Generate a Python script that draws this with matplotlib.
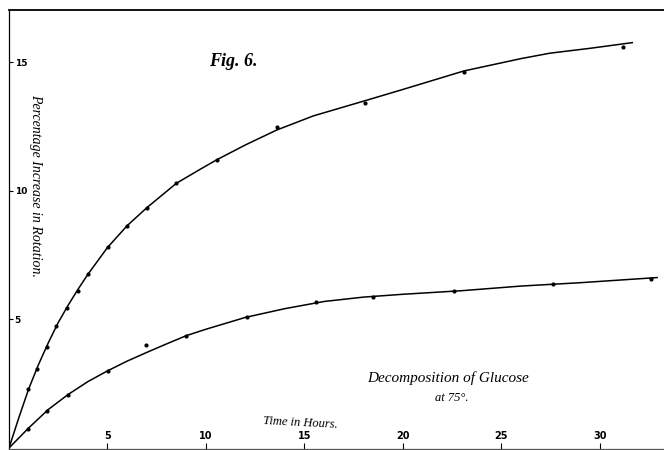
import numpy as np
import matplotlib
matplotlib.use("Agg")
import matplotlib.pyplot as plt

# observed readings (hours, % increase in rotation)
upper_hours = [0.98, 1.44, 1.91, 2.39, 2.93, 3.49, 3.99, 5.01, 5.97, 7.0, 8.5,
               10.54, 13.59, 18.07, 23.1, 31.15]
upper_values = [2.3, 3.07, 3.94, 4.76, 5.46, 6.1, 6.77, 7.81, 8.64, 9.34, 10.3,
                11.21, 12.5, 13.44, 14.64, 15.59]

lower_hours = [0.95, 1.93, 3.0, 5.01, 6.95, 8.97, 12.06, 15.6, 18.5, 22.6, 27.6, 32.6]
lower_values = [0.75, 1.45, 2.05, 3.0, 4.0, 4.37, 5.1, 5.67, 5.89, 6.1, 6.38, 6.56]

# hand drawn curves
upper_curve_x = [0, 0.5, 1, 1.5, 2, 2.5, 3, 3.5, 4, 5, 6, 7, 8.5, 9.7, 10.54, 12,
                 13.59, 15.45, 18.07, 20, 23.1, 26, 27.46, 29.5, 31.64]
upper_curve_y = [0, 1.18, 2.3, 3.25, 4.1, 4.88, 5.55, 6.17, 6.75, 7.8, 8.65, 9.35,
                 10.3, 10.84, 11.21, 11.79, 12.37, 12.92, 13.51, 13.95, 14.67, 15.15,
                 15.36, 15.55, 15.77]

lower_curve_x = [0, 1, 2, 3, 4, 5, 6, 7, 8, 9, 10, 12, 14, 16, 18, 20, 23, 26, 29, 32.9]
lower_curve_y = [0, 0.78, 1.5, 2.08, 2.58, 3.0, 3.38, 3.72, 4.05, 4.37, 4.62, 5.08,
                 5.42, 5.7, 5.87, 5.98, 6.12, 6.3, 6.43, 6.63]

x_ticks = [5, 10, 15, 20, 25, 30]
y_ticks = [5, 10, 15]

fig = plt.figure(figsize=(6.64, 4.5), dpi=100)
ax = fig.add_axes([9 / 664, 1 / 450, 655 / 664, 439 / 450])

for cx, cy in ((upper_curve_x, upper_curve_y), (lower_curve_x, lower_curve_y)):
    ax.plot(cx, cy, color='black', linewidth=1.1, solid_joinstyle='round')
ax.plot(upper_hours, upper_values, 'o', color='black', markersize=2)
ax.plot(lower_hours, lower_values, 'o', color='black', markersize=2)

ax.set_xlim(0, 33.25)
ax.set_ylim(-0.04, 17.04)
ax.set_xticks(x_ticks)
ax.set_yticks(y_ticks)
ax.set_xticklabels([str(t) for t in x_ticks])
ax.set_yticklabels([str(t) for t in y_ticks])
ax.tick_params(axis='x', direction='in', length=4, width=0.8, pad=-13,
               labelsize=7)
ax.tick_params(axis='y', direction='in', length=3, width=0.8, pad=-4,
               labelsize=6.5)
for lbl in ax.get_xticklabels() + ax.get_yticklabels():
    lbl.set_fontweight('bold')
    lbl.set_family('DejaVu Sans')
for lbl in ax.get_yticklabels():
    lbl.set_horizontalalignment('left')

ax.spines['right'].set_visible(False)
ax.spines['left'].set_linewidth(0.9)
ax.spines['top'].set_linewidth(1.3)
ax.spines['bottom'].set_linewidth(0.9)
ax.spines['bottom'].set_color('#555555')

hand = dict(family='Liberation Serif', style='italic', color='black')
fig.text(233 / 664, 1 - 62 / 450, 'Fig. 6.', fontsize=13, fontweight='bold',
         ha='center', va='center', **hand)
fig.text(36 / 664, 1 - 185 / 450, 'Percentage Increase in Rotation.', fontsize=10,
         rotation=270, ha='center', va='center', **hand)
fig.text(448 / 664, 1 - 378 / 450, 'Decomposition of Glucose', fontsize=11,
         ha='center', va='center', **hand)
fig.text(452 / 664, 1 - 398 / 450, 'at 75°.', fontsize=9,
         ha='center', va='center', **hand)
fig.text(300 / 664, 1 - 423 / 450, 'Time in Hours.', fontsize=9, rotation=-3,
         ha='center', va='center', **hand)

fig.savefig('out.png', dpi=100)
